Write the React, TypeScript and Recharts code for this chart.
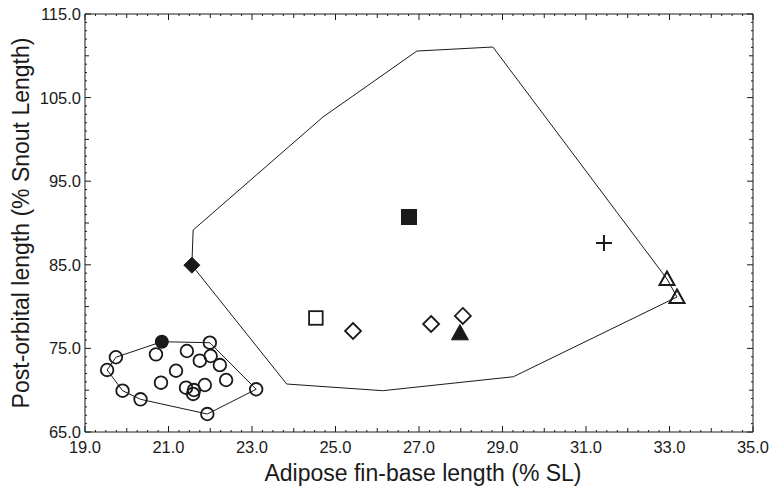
import React from 'react';
import { ScatterChart, Scatter, XAxis, YAxis } from 'recharts';

// axis ticks: labelled, medium and small steps
const xMajor = [19, 21, 23, 25, 27, 29, 31, 33, 35];
const yMajor = [65, 75, 85, 95, 105, 115];
const xMidStep = 1;
const xMinorStep = 0.25;
const yMidStep = 5;
const yMinorStep = 1;

// hull outlines (drawn in order, closed)
const bigHull = [
  { x: 21.59, y: 89.16 }, { x: 21.56, y: 84.95 }, { x: 23.83, y: 70.74 }, { x: 26.13, y: 69.94 },
  { x: 29.26, y: 71.61 }, { x: 33.18, y: 81.15 }, { x: 32.94, y: 83.3 }, { x: 28.77, y: 111.05 },
  { x: 26.95, y: 110.57 }, { x: 24.7, y: 102.68 }, { x: 21.59, y: 89.16 },
];
const smallHull = [
  { x: 20.84, y: 75.8 }, { x: 21.99, y: 75.68 }, { x: 23.1, y: 70.11 }, { x: 21.93, y: 67.15 },
  { x: 20.33, y: 68.91 }, { x: 19.9, y: 69.94 }, { x: 19.53, y: 72.42 }, { x: 19.74, y: 73.94 },
  { x: 20.84, y: 75.8 },
];

// specimens
const openCircles = [
  { x: 21.99, y: 75.68 }, { x: 20.7, y: 74.29 }, { x: 19.74, y: 73.94 }, { x: 21.44, y: 74.69 },
  { x: 22.01, y: 74.09 }, { x: 21.75, y: 73.53 }, { x: 22.23, y: 73.01 }, { x: 19.53, y: 72.42 },
  { x: 21.18, y: 72.33 }, { x: 22.38, y: 71.22 }, { x: 20.82, y: 70.9 }, { x: 21.87, y: 70.62 },
  { x: 21.42, y: 70.3 }, { x: 21.61, y: 70.02 }, { x: 21.59, y: 69.55 }, { x: 19.9, y: 69.94 },
  { x: 20.33, y: 68.91 }, { x: 23.1, y: 70.11 }, { x: 21.93, y: 67.15 },
];
const filledCircles = [{ x: 20.84, y: 75.8 }];
const filledDiamonds = [{ x: 21.56, y: 84.95 }];
const filledSquares = [{ x: 26.76, y: 90.72 }];
const openSquares = [{ x: 24.53, y: 78.64 }];
const openDiamonds = [{ x: 25.42, y: 77.08 }, { x: 27.29, y: 77.92 }, { x: 28.05, y: 78.88 }];
const filledTriangles = [{ x: 27.98, y: 76.84 }];
const crosses = [{ x: 31.43, y: 87.61 }];
const openTriangles = [{ x: 32.94, y: 83.3 }, { x: 33.18, y: 81.15 }];

const stepTicks = (majors: number[], step: number) => {
  const out: number[] = [];
  const n = Math.round((majors[majors.length - 1] - majors[0]) / step);
  for (let i = 0; i <= n; i++) out.push(Math.round((majors[0] + i * step) * 100) / 100);
  return out;
};
const xTicks = stepTicks(xMajor, xMinorStep);
const yTicks = stepTicks(yMajor, yMinorStep);

const INK = '#1a1a1a';
const FONT = '"Liberation Sans", Arial, sans-serif';

const tickLen = (v: number, majors: number[], mid: number) => {
  if (majors.includes(v)) return 6;
  if (Math.abs(v / mid - Math.round(v / mid)) < 1e-6) return 4;
  return 2;
};

const makeTick = (side: 'bottom' | 'top' | 'left' | 'right', majors: number[], mid: number) => (props: any) => {
  const { x, y, payload } = props;
  const v = payload.value;
  const major = majors.includes(v);
  const len = tickLen(v, majors, mid);
  const label = v.toFixed(1);
  if (side === 'bottom') {
    return (
      <g>
        <line x1={x} y1={y} x2={x} y2={y - len} stroke={INK} strokeWidth={1} />
        {major && (
          <text x={x} y={y + 21} textAnchor="middle" fontSize={16.5} fill={INK} fontFamily={FONT}>{label}</text>
        )}
      </g>
    );
  }
  if (side === 'top') return <line x1={x} y1={y} x2={x} y2={y + len} stroke={INK} strokeWidth={1} />;
  if (side === 'left') {
    return (
      <g>
        <line x1={x} y1={y} x2={x + len} y2={y} stroke={INK} strokeWidth={1} />
        {major && (
          <text x={x - 4} y={y + 6} textAnchor="end" fontSize={16.5} fill={INK} fontFamily={FONT}>{label}</text>
        )}
      </g>
    );
  }
  return <line x1={x} y1={y} x2={x - len} y2={y} stroke={INK} strokeWidth={1} />;
};

const noShape = () => <g />;
const openCircle = (p: any) => <circle cx={p.cx} cy={p.cy} r={6.3} fill="none" stroke={INK} strokeWidth={1.8} />;
const filledCircle = (p: any) => <circle cx={p.cx} cy={p.cy} r={7} fill={INK} />;
const diamond = (filled: boolean) => (p: any) => {
  const h = 8;
  return (
    <polygon
      points={`${p.cx},${p.cy - h} ${p.cx + h},${p.cy} ${p.cx},${p.cy + h} ${p.cx - h},${p.cy}`}
      fill={filled ? INK : 'none'}
      stroke={INK}
      strokeWidth={filled ? 1 : 1.8}
    />
  );
};
const square = (filled: boolean) => (p: any) => {
  const h = filled ? 7.5 : 6.8;
  return (
    <rect x={p.cx - h} y={p.cy - h} width={2 * h} height={2 * h}
      fill={filled ? INK : 'none'} stroke={INK} strokeWidth={filled ? 1 : 1.8} />
  );
};
const triangle = (filled: boolean) => (p: any) => {
  const h = filled ? 8.5 : 7.5;
  return (
    <polygon
      points={`${p.cx},${p.cy - h} ${p.cx + h},${p.cy + h * 0.8} ${p.cx - h},${p.cy + h * 0.8}`}
      fill={filled ? INK : 'none'}
      stroke={INK}
      strokeWidth={filled ? 1 : 2}
    />
  );
};
const cross = (p: any) => (
  <g stroke={INK} strokeWidth={2}>
    <line x1={p.cx - 8} y1={p.cy} x2={p.cx + 8} y2={p.cy} />
    <line x1={p.cx} y1={p.cy - 8} x2={p.cx} y2={p.cy + 8} />
  </g>
);

const hullLine = { stroke: INK, strokeWidth: 1 };

export default function App() {
  return (
    <div style={{ position: 'absolute', left: 0, top: 0, background: '#fff' }}>
      <ScatterChart width={774} height={487} margin={{ top: 13, right: 20, bottom: 0, left: 0 }}>
        <XAxis
          xAxisId={0}
          dataKey="x"
          type="number"
          domain={[19, 35]}
          allowDataOverflow
          ticks={xTicks}
          interval={0}
          height={55}
          tickSize={0}
          tickMargin={0}
          tickLine={false}
          axisLine={{ stroke: INK, strokeWidth: 1 }}
          tick={makeTick('bottom', xMajor, xMidStep)}
          label={{ value: 'Adipose fin-base length (% SL)', position: 'insideBottom', offset: 6, dx: 4,
            style: { fontSize: 23, fill: INK, fontFamily: FONT } }}
        />
        <XAxis
          xAxisId="top"
          orientation="top"
          dataKey="x"
          type="number"
          domain={[19, 35]}
          allowDataOverflow
          ticks={xTicks}
          interval={0}
          height={1}
          tickSize={0}
          tickMargin={0}
          tickLine={false}
          axisLine={{ stroke: INK, strokeWidth: 1 }}
          tick={makeTick('top', xMajor, xMidStep)}
        />
        <YAxis
          yAxisId={0}
          dataKey="y"
          type="number"
          domain={[65, 115]}
          allowDataOverflow
          ticks={yTicks}
          interval={0}
          width={85}
          tickSize={0}
          tickMargin={0}
          tickLine={false}
          axisLine={{ stroke: INK, strokeWidth: 1 }}
          tick={makeTick('left', yMajor, yMidStep)}
          label={{ value: 'Post-orbital length (% Snout Length)', angle: -90, position: 'insideLeft', offset: 21,
            style: { fontSize: 23, fill: INK, fontFamily: FONT, textAnchor: 'middle' } }}
        />
        <YAxis
          yAxisId="right"
          orientation="right"
          dataKey="y"
          type="number"
          domain={[65, 115]}
          allowDataOverflow
          ticks={yTicks}
          interval={0}
          width={1}
          tickSize={0}
          tickMargin={0}
          tickLine={false}
          axisLine={{ stroke: INK, strokeWidth: 1 }}
          tick={makeTick('right', yMajor, yMidStep)}
        />
        <Scatter data={bigHull} line={hullLine} lineType="joint" shape={noShape} isAnimationActive={false} />
        <Scatter data={smallHull} line={hullLine} lineType="joint" shape={noShape} isAnimationActive={false} />
        <Scatter data={openCircles} shape={openCircle} isAnimationActive={false} />
        <Scatter data={filledCircles} shape={filledCircle} isAnimationActive={false} />
        <Scatter data={filledDiamonds} shape={diamond(true)} isAnimationActive={false} />
        <Scatter data={filledSquares} shape={square(true)} isAnimationActive={false} />
        <Scatter data={openSquares} shape={square(false)} isAnimationActive={false} />
        <Scatter data={openDiamonds} shape={diamond(false)} isAnimationActive={false} />
        <Scatter data={filledTriangles} shape={triangle(true)} isAnimationActive={false} />
        <Scatter data={crosses} xAxisId="top" yAxisId="right" shape={cross} isAnimationActive={false} />
        <Scatter data={openTriangles} shape={triangle(false)} isAnimationActive={false} />
      </ScatterChart>
    </div>
  );
}
